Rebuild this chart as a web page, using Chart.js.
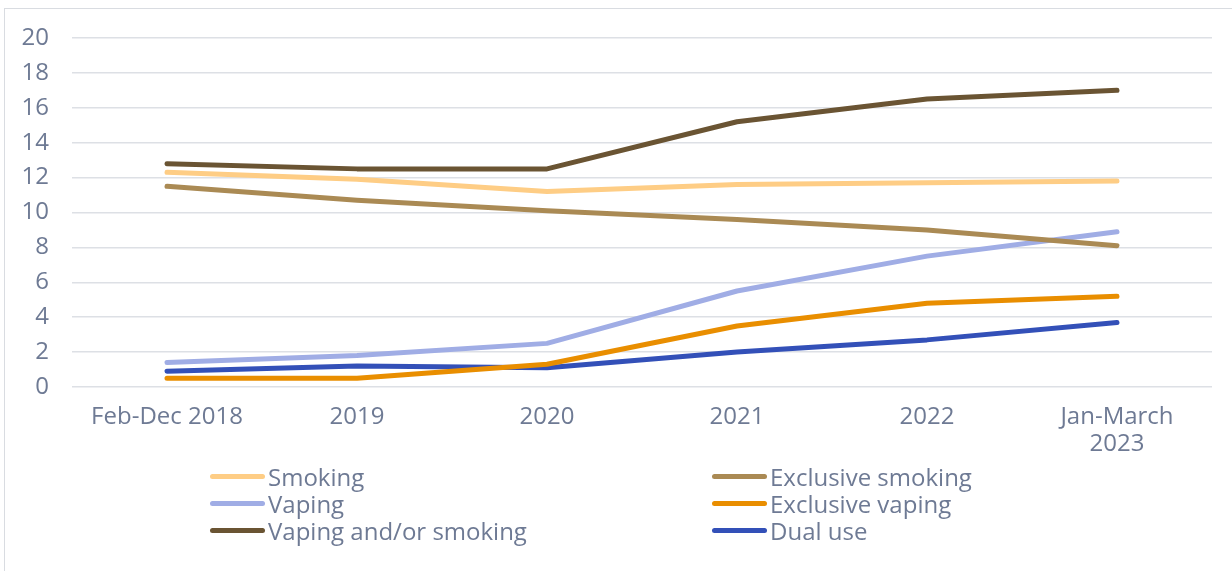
<!DOCTYPE html>
<html lang="en">
<head>
    <meta charset="UTF-8">
    <title>Smoking and vaping prevalence</title>
    <script src="https://cdn.jsdelivr.net/npm/chart.js"></script>
    <style>
        html, body { margin: 0; padding: 0; background: #fff; }
        body { font-family: 'Open Sans', sans-serif; }
        .wrap { position: relative; width: 1232px; height: 571px; overflow: hidden; }
        .frame { position: absolute; left: 4px; top: 8px; width: 1240px; height: 580px; border: 1.5px solid #d9dce1; box-sizing: border-box; }
        canvas { position: absolute; left: 0; top: 0; }
        #legend { position: absolute; left: 0; top: 0; width: 1232px; height: 571px; pointer-events: none; }
        .item { position: absolute; display: flex; align-items: center; font-size: 24px; color: #6e7a94; white-space: nowrap; }
        .item .swatch { width: 55px; height: 5px; border-radius: 3px; margin-right: 3px; }
    </style>
</head>
<body>
    <div class="wrap">
        <div class="frame"></div>
        <canvas id="chart" width="1232" height="571"></canvas>
        <div id="legend"></div>
    </div>

    <script>
        // data
        const categories = ['Feb-Dec 2018', '2019', '2020', '2021', '2022', ['Jan-March', '2023']];
        const smoking = [12.3, 11.9, 11.2, 11.6, 11.7, 11.8];
        const exclusiveSmoking = [11.5, 10.7, 10.1, 9.6, 9.0, 8.1];
        const vaping = [1.4, 1.8, 2.5, 5.5, 7.5, 8.9];
        const exclusiveVaping = [0.5, 0.5, 1.3, 3.5, 4.8, 5.2];
        const vapingOrSmoking = [12.8, 12.5, 12.5, 15.2, 16.5, 17.0];
        const dualUse = [0.9, 1.2, 1.1, 2.0, 2.7, 3.7];
        const seriesNames = ['Smoking', 'Exclusive smoking', 'Vaping', 'Exclusive vaping', 'Vaping and/or smoking', 'Dual use'];
        const yTicks = [0, 2, 4, 6, 8, 10, 12, 14, 16, 18, 20];

        const colors = ['#fecd85', '#aa8a54', '#a0ade5', '#e98e00', '#6a5433', '#3350b8'];
        const values = [smoking, exclusiveSmoking, vaping, exclusiveVaping, vapingOrSmoking, dualUse];
        const textColor = '#6e7a94';

        const datasets = seriesNames.map((name, i) => ({
            label: name,
            data: values[i],
            borderColor: colors[i],
            backgroundColor: colors[i],
            borderWidth: 5,
            borderCapStyle: 'round',
            borderJoinStyle: 'round',
            pointRadius: 0,
            tension: 0,
            fill: false
        }));

        const chart = new Chart(document.getElementById('chart'), {
            type: 'line',
            data: { labels: categories, datasets: datasets },
            options: {
                responsive: false,
                animation: false,
                layout: { padding: { top: 38, left: 0, right: 20, bottom: 0 } },
                plugins: { legend: { display: false }, tooltip: { enabled: false } },
                scales: {
                    x: {
                        offset: true,
                        grid: { display: false },
                        border: { display: false },
                        ticks: {
                            color: textColor, padding: 8, maxRotation: 0,
                            font: { family: 'Open Sans', size: 24, lineHeight: 1.15 }
                        },
                        afterFit: (scale) => { scale.height = 571 - 387; }
                    },
                    y: {
                        min: 0, max: 20,
                        afterBuildTicks: (scale) => { scale.ticks = yTicks.map(v => ({ value: v })); },
                        grid: { color: '#dde0e5', lineWidth: 1.5, drawTicks: false },
                        border: { display: false },
                        ticks: {
                            color: textColor, padding: 23,
                            font: { family: 'Open Sans', size: 24 }
                        },
                        afterFit: (scale) => { scale.width = 72; }
                    }
                }
            }
        });

        // two-column legend built from the datasets
        const legend = document.getElementById('legend');
        const colX = [210, 712];
        const rowY = [476, 503, 530];
        chart.data.datasets.forEach((ds, i) => {
            const el = document.createElement('div');
            el.className = 'item';
            el.style.left = colX[i % 2] + 'px';
            el.style.top = (rowY[Math.floor(i / 2)] - 15) + 'px';
            el.style.height = '30px';
            el.innerHTML = '<span class="swatch" style="background:' + ds.borderColor + '"></span>';
            el.appendChild(document.createTextNode(ds.label));
            legend.appendChild(el);
        });
    </script>
</body>
</html>
